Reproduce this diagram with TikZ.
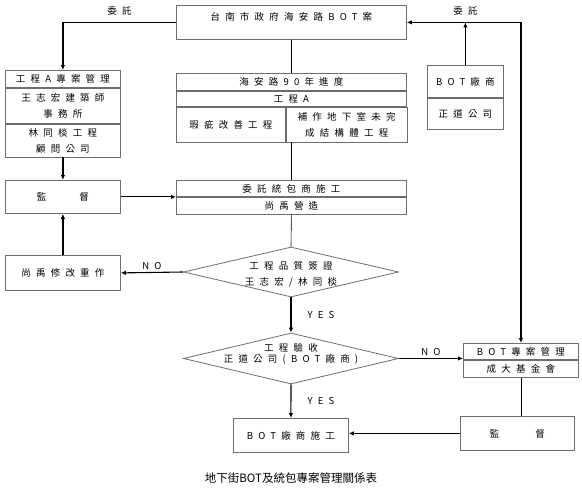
\documentclass[tikz,border=0pt]{standalone}
\usepackage{fontspec}
\newfontfamily\cjk[LetterSpace=55]{Noto Sans CJK TC}
\newfontfamily\cjkplain{Noto Sans CJK TC}
\usetikzlibrary{arrows.meta,positioning,shapes.geometric}
\definecolor{boxgray}{HTML}{6E6E6E}

\begin{document}
\begin{tikzpicture}[x=1pt,y=-1pt,every node/.style={font=\cjk\fontsize{9.5}{16}\selectfont,align=center,inner sep=0pt},cell/.style={draw=boxgray,line width=0.8pt,minimum width=#1},check/.style={draw=boxgray,line width=0.8pt,diamond,minimum width=215pt,minimum height=50pt},flow/.style={-{Latex[length=5pt,width=4.5pt]},line width=1.1pt},bold/.style={-{Latex[length=5pt,width=4.5pt]},line width=1.6pt},link/.style={line width=0.6pt}]
\useasboundingbox (0,0) rectangle (582,498);
% owner
\node[cell=230pt,minimum height=34pt,anchor=north west,label={[anchor=center,yshift=-12pt]north:台南市政府海安路BOT案}] (city) at (176,5) {};
% left column
\node[cell=115pt,minimum height=17pt,anchor=north west] (pmA) at (5,70) {工程A專案管理};
\node[cell=115pt,minimum height=35pt,below=0pt of pmA] (pmB) {王志宏建築師\\事務所};
\node[cell=115pt,minimum height=33pt,below=0pt of pmB] (pmC) {林同棪工程\\顧問公司};
\node[cell=115pt,minimum height=33pt,anchor=north west] (sup1) at (5,180) {監\hspace{33pt}督};
\node[cell=115pt,minimum height=35pt,anchor=north west] (redo) at (5,255) {尚禹修改重作};
% middle column
\node[cell=230pt,minimum height=17pt,anchor=north west] (prog) at (176,73) {海安路90年進度};
\node[cell=230pt,minimum height=15pt,below=0pt of prog] (engA) {工程A};
\node[cell=109pt,minimum height=35pt,below right=0pt and 0pt of engA.south west] (defect) {瑕疵改善工程};
\node[cell=121pt,minimum height=35pt,right=0pt of defect] (struct) {補作地下室未完\\成結構體工程};
\node[cell=230pt,minimum height=16pt,anchor=north west] (contA) at (176,180) {委託統包商施工};
\node[cell=230pt,minimum height=17pt,below=0pt of contA] (contB) {尚禹營造};
\node[check,label={[yshift=-2pt]center:{工程品質簽證\\王志宏/林同棪}}] (q1) at (291,272) {};
\node[check,minimum height=51pt,label={[yshift=4.5pt,font=\cjk\fontsize{9.5}{11.5}\selectfont]center:{工程驗收\\正道公司(BOT廠商)}}] (q2) at (291,358.5) {};
\node[cell=115pt,minimum height=34pt,anchor=north west] (build) at (233,418) {BOT廠商施工};
% right column
\node[cell=76pt,minimum height=32pt,anchor=north west] (vendA) at (427,65) {BOT廠商};
\node[cell=76pt,minimum height=31pt,below=0pt of vendA] (vendB) {正道公司};
\node[cell=115pt,minimum height=16pt,anchor=north west] (mgmtA) at (463,343) {BOT專案管理};
\node[cell=115pt,minimum height=17pt,below=0pt of mgmtA] (mgmtB) {成大基金會};
\node[cell=114pt,minimum height=34pt,anchor=north west] (sup2) at (460,416) {監\hspace{36pt}督};
\node[font=\cjkplain\fontsize{11.5}{13}\selectfont] (title) at (291,478) {地下街BOT及統包專案管理關係表};
% connectors
\coordinate (join) at (vendA.north |- city.east);
\coordinate (corner) at (mgmtA.north |- city.east);
\draw[bold] (city.west) -| node[pos=0.25,above=6pt]{委託} (pmA.north);
\draw[bold] (corner) -- (city.east);
\draw[bold] (vendA.north) -- (join) node[above=6pt]{委託};
\draw[bold] (corner) -- (mgmtA.north);
\draw[link] (city.south) -- (prog.north);
\draw[bold] (pmC.south) -- (sup1.north);
\draw[flow] (sup1.east) -- (sup1.east -| contA.west);
\draw[link] (prog.south |- defect.south) -- (contA.north);
\draw[link] (contB.south) -- (q1.north);
\draw[flow] (q1.west) -- node[above=2pt]{NO} (redo.east);
\draw[bold] (redo.north) -- (sup1.south);
\draw[flow] (q1.south) -- node[right=16pt]{YES} (q2.north);
\draw[flow] (q2.east) -- node[above=2pt]{NO} (q2.east -| mgmtA.west);
\draw[flow] (q2.south) -- node[right=16pt]{YES} (build.north);
\draw[link] (mgmtB.south) -- (mgmtB.south |- sup2.north);
\draw[flow] (sup2.west) -- (sup2.west -| build.east);
\end{tikzpicture}
\end{document}
